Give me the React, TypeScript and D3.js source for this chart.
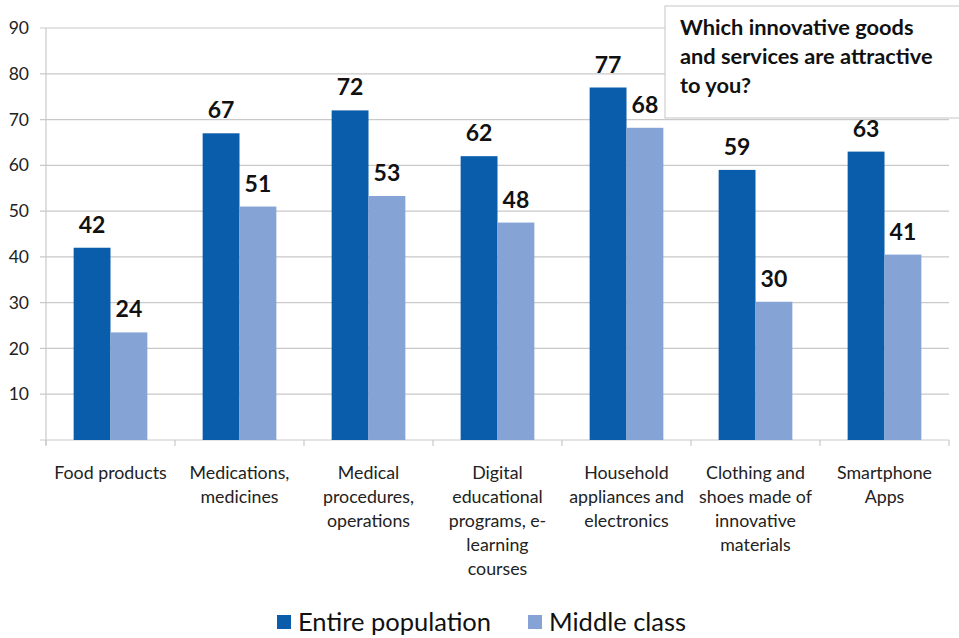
import * as d3 from 'd3';
import React from 'react';

const categories = [
  ['Food products'],
  ['Medications,', 'medicines'],
  ['Medical', 'procedures,', 'operations'],
  ['Digital', 'educational', 'programs, e-', 'learning', 'courses'],
  ['Household', 'appliances and', 'electronics'],
  ['Clothing and', 'shoes made of', 'innovative', 'materials'],
  ['Smartphone', 'Apps'],
];
const entirePopulation = [42, 67, 72, 62, 77, 59, 63];
const middleClass = [23.5, 51, 53.3, 47.5, 68.2, 30.2, 40.5];
const seriesNames = ['Entire population', 'Middle class'];
const seriesColors = ['#0A5DAA', '#86A3D6'];
const yTicks = [10, 20, 30, 40, 50, 60, 70, 80, 90];
const titleLines = ['Which innovative goods', 'and services are attractive', 'to you?'];

const width = 959;
const height = 638;
const margin = { left: 46, right: 10, top: 28, bottom: 198 };
const font = 'Lato, "Open Sans", sans-serif';

export default function App() {
  const x = d3
    .scaleBand<number>()
    .domain(d3.range(categories.length))
    .range([margin.left, width - margin.right])
    .paddingInner(0)
    .paddingOuter(0);
  const y = d3.scaleLinear().domain([0, 90]).range([height - margin.bottom, margin.top]);
  const inner = d3
    .scaleBand<number>()
    .domain([0, 1])
    .range([0, x.bandwidth()])
    .paddingOuter(0.75)
    .paddingInner(0);
  const series = [entirePopulation, middleClass];
  const fmt = d3.format('.0f');
  const y0 = y(0);

  return (
    <svg
      width={width}
      height={height}
      style={{ position: 'absolute', left: 0, top: 0, background: '#fff' }}
      fontFamily={font}
    >
      {/* grid */}
      {yTicks.map((t) => (
        <g key={t}>
          <line x1={margin.left - 6} x2={width - margin.right} y1={y(t)} y2={y(t)} stroke="#C9C9C9" strokeWidth={1.2} />
          <text x={29} y={y(t)} dy="0.35em" textAnchor="end" fontSize={17.5} fill="#222">
            {t}
          </text>
        </g>
      ))}
      <line x1={margin.left} x2={margin.left} y1={y(90)} y2={y0 + 5} stroke="#C9C9C9" strokeWidth={1.2} />
      <line x1={margin.left - 6} x2={width - margin.right} y1={y0} y2={y0} stroke="#C9C9C9" strokeWidth={1.2} />
      {d3.range(categories.length + 1).map((i) => {
        const px = margin.left + i * x.bandwidth();
        return <line key={i} x1={px} x2={px} y1={y0} y2={y0 + 6} stroke="#C9C9C9" strokeWidth={1.2} />;
      })}

      {/* bars */}
      {series.map((vals, s) =>
        vals.map((v, i) => (
          <rect
            key={`${s}-${i}`}
            x={(x(i) as number) + (inner(s) as number)}
            y={y(v)}
            width={inner.bandwidth()}
            height={y0 - y(v)}
            fill={seriesColors[s]}
          />
        ))
      )}

      {/* title box */}
      <rect x={665} y={6} width={300} height={112} fill="#fff" stroke="#CFCFCF" strokeWidth={1.2} />
      {titleLines.map((l, i) => (
        <text key={l} x={680} y={35 + i * 29} fontSize={21.8} fontWeight="bold" fill="#111">
          {l}
        </text>
      ))}

      {/* data labels */}
      {series.map((vals, s) =>
        vals.map((v, i) => (
          <text
            key={`l${s}-${i}`}
            x={(x(i) as number) + (inner(s) as number) + inner.bandwidth() / 2}
            y={y(v) - 15}
            textAnchor="middle"
            fontSize={23}
            fontWeight="bold"
            fill="#111"
          >
            {fmt(v)}
          </text>
        ))
      )}

      {/* category labels */}
      {categories.map((lines, i) => (
        <text key={i} textAnchor="middle" fontSize={17.8} fill="#222">
          {lines.map((l, j) => (
            <tspan key={j} x={(x(i) as number) + x.bandwidth() / 2} y={479 + j * 24}>
              {l}
            </tspan>
          ))}
        </text>
      ))}

      {/* legend */}
      {seriesNames.map((n, s) => {
        const lx = s === 0 ? 277 : 528;
        return (
          <g key={n}>
            <rect x={lx} y={615} width={14} height={14} fill={seriesColors[s]} />
            <text x={lx + 21} y={622} dy="0.35em" fontSize={25.5} fill="#111">
              {n}
            </text>
          </g>
        );
      })}
    </svg>
  );
}
